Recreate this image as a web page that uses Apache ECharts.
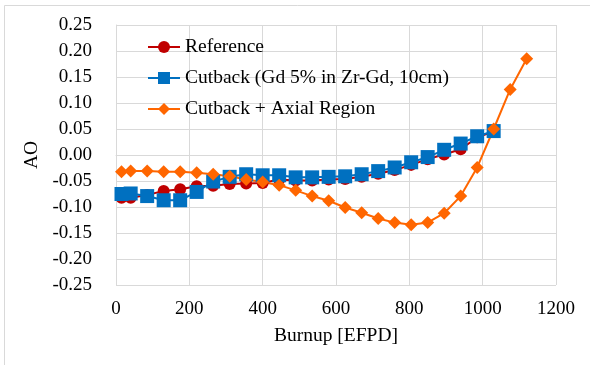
<!DOCTYPE html>
<html>
<head>
<meta charset="utf-8">
<script src="https://cdn.jsdelivr.net/npm/echarts@6/dist/echarts.min.js"></script>
<style>
  html, body { margin: 0; padding: 0; background: #fff; }
  #chart { width: 590px; height: 365px; }
</style>
</head>
<body>
<div id="chart"></div>
<script>
// burnup points (EFPD)
const burnup = [15, 40, 85, 130, 175, 220, 265, 310, 355, 400, 445, 490, 535, 580, 625, 670, 715, 760, 805, 850, 895, 940, 985, 1030, 1075, 1120]

const reference = [-0.082, -0.082, -0.077, -0.069, -0.066, -0.060, -0.059, -0.056, -0.055, -0.054, -0.047, -0.049,
  -0.049, -0.047, -0.046, -0.042, -0.036, -0.029, -0.019, -0.008, 0.001, 0.011, 0.034, 0.045]
const cutback = [-0.075, -0.074, -0.079, -0.087, -0.087, -0.071, -0.051, -0.042, -0.037, -0.039, -0.039, -0.043,
  -0.043, -0.042, -0.041, -0.037, -0.031, -0.024, -0.014, -0.004, 0.010, 0.022, 0.036, 0.046]
const cutbackAxial = [-0.032, -0.031, -0.031, -0.032, -0.032, -0.034, -0.037, -0.041, -0.047, -0.052, -0.058, -0.068,
  -0.079, -0.088, -0.101, -0.111, -0.122, -0.130, -0.134, -0.130, -0.112, -0.079, -0.024, 0.050, 0.126, 0.185]

const seriesNames = ['Reference', 'Cutback (Gd 5% in Zr-Gd, 10cm)', 'Cutback + Axial Region']

const font = 'Liberation Serif, Times New Roman, serif'

function pairs(values) {
  return values.map((v, i) => [burnup[i], v])
}

// y split lines: zero line a bit darker
const yLineColors = []
for (let i = 0; i < 11; i++) {
  yLineColors.push(i === 5 ? '#bfbfbf' : '#d9d9d9')
}

const chart = echarts.init(document.getElementById('chart'), null, { renderer: 'canvas' })

chart.setOption({
  animation: false,
  backgroundColor: '#fff',
  graphic: [{
    type: 'rect',
    shape: { x: 4.5, y: 5.5, width: 620, height: 420 },
    style: { fill: 'none', stroke: '#d9d9d9', lineWidth: 1 },
    silent: true
  }],
  grid: {
    left: 116,
    right: 34,
    top: 25,
    bottom: 80
  },
  legend: {
    orient: 'vertical',
    left: 142,
    top: 31,
    itemWidth: 32,
    itemHeight: 15,
    itemGap: 9,
    data: seriesNames,
    textStyle: {
      fontFamily: font,
      fontSize: 19.5,
      color: '#000',
      lineHeight: 22
    }
  },
  xAxis: {
    type: 'value',
    min: 0,
    max: 1200,
    interval: 200,
    name: 'Burnup [EFPD]',
    nameLocation: 'middle',
    nameGap: 41,
    nameTextStyle: { fontFamily: font, fontSize: 19.5, color: '#000' },
    axisLine: { show: true, lineStyle: { color: '#d9d9d9' } },
    axisTick: { show: false },
    axisLabel: {
      fontFamily: font,
      fontSize: 19,
      color: '#000',
      margin: 15,
      formatter: v => String(v)
    },
    splitLine: { show: true, lineStyle: { color: '#d9d9d9' } }
  },
  yAxis: {
    type: 'value',
    min: -0.25,
    max: 0.25,
    interval: 0.05,
    name: 'AO',
    nameLocation: 'middle',
    nameGap: 62,
    nameTextStyle: { fontFamily: font, fontSize: 19.5, color: '#000' },
    axisLine: { show: true, lineStyle: { color: '#d9d9d9' } },
    axisTick: { show: false },
    axisLabel: {
      fontFamily: font,
      fontSize: 19,
      color: '#000',
      margin: 24,
      formatter: v => v.toFixed(2)
    },
    splitLine: { show: true, lineStyle: { color: yLineColors } }
  },
  series: [
    {
      name: seriesNames[0],
      type: 'line',
      data: pairs(reference),
      symbol: 'circle',
      symbolSize: 12,
      lineStyle: { color: '#C00000', width: 2 },
      itemStyle: { color: '#C00000' }
    },
    {
      name: seriesNames[1],
      type: 'line',
      data: pairs(cutback),
      symbol: 'rect',
      symbolSize: 14,
      lineStyle: { color: '#0070C0', width: 2 },
      itemStyle: { color: '#0070C0' }
    },
    {
      name: seriesNames[2],
      type: 'line',
      data: pairs(cutbackAxial),
      symbol: 'diamond',
      symbolSize: 13,
      lineStyle: { color: '#FF6600', width: 2 },
      itemStyle: { color: '#FF6600' }
    }
  ]
})
</script>
</body>
</html>
